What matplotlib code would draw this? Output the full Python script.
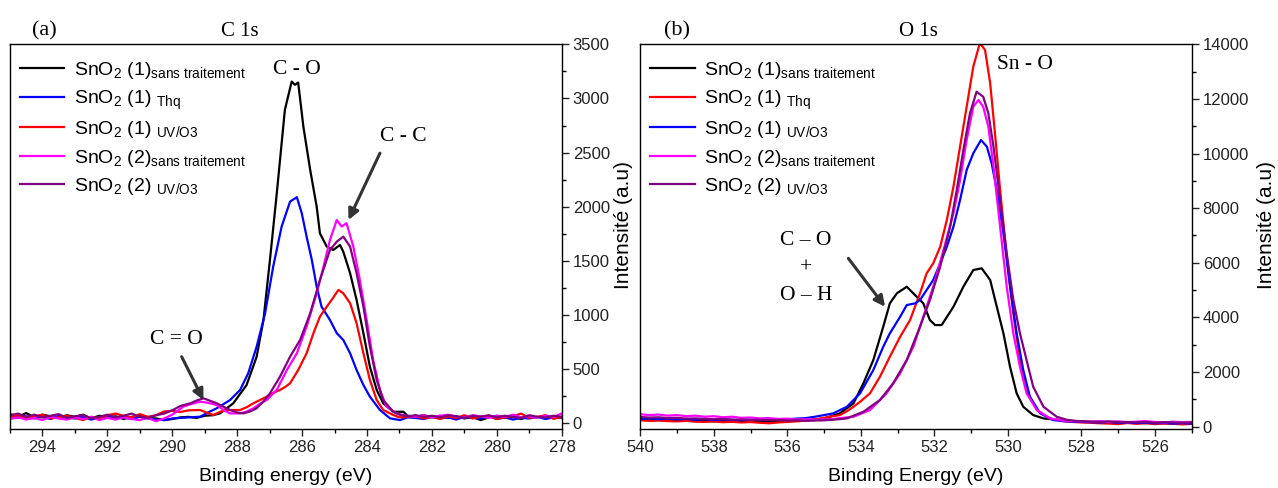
import matplotlib
matplotlib.use("Agg")
import matplotlib.pyplot as plt
from matplotlib.ticker import MultipleLocator

plt.rcParams['font.family'] = ['Liberation Sans', 'DejaVu Sans']
plt.rcParams['mathtext.fontset'] = 'custom'
plt.rcParams['mathtext.rm'] = 'Liberation Sans'
plt.rcParams['mathtext.it'] = 'Liberation Sans:italic'
plt.rcParams['mathtext.bf'] = 'Liberation Sans:bold'

# ---------------- C 1s data (panel a) ----------------
c1s_black_E = [295.0, 294.75, 294.5, 294.25, 294.0, 293.75, 293.5, 293.25, 293.0, 292.75, 292.5, 292.25, 292.0,
               291.75, 291.5, 291.25, 291.0, 290.75, 290.5, 290.25, 290.0, 289.75, 289.5, 289.25, 289.0, 288.75,
               288.53, 288.12, 287.71, 287.4, 287.19, 286.99, 286.78, 286.53, 286.32, 286.22, 286.12, 285.96,
               285.75, 285.55, 285.45, 285.24, 285.04, 284.83, 284.73, 284.52, 284.32, 284.11, 283.91, 283.7,
               283.5, 283.19, 282.88, 282.75, 282.5, 282.25, 282.0, 281.75, 281.5, 281.25, 281.0, 280.75, 280.5,
               280.25, 280.0, 279.75, 279.5, 279.25, 279.0, 278.75, 278.5, 278.25, 278.0]
c1s_black_I = [85, 60, 95, 55, 80, 65, 50, 75, 60, 80, 45, 70, 55,
               65, 40, 60, 70, 50, 45, 30, 40, 55, 60, 50, 70, 75,
               92, 185, 354, 615, 954, 1509, 2122, 2895, 3156, 3126, 3147, 2740,
               2340, 2001, 1755, 1632, 1601, 1647, 1585, 1386, 1139, 832, 523, 308,
               185, 107, 107, 70, 61, 75, 55, 70, 50, 65, 45, 60, 30,
               55, 70, 50, 60, 40, 65, 55, 70, 45, 60]

c1s_blue_E = [295.0, 294.75, 294.5, 294.25, 294.0, 293.75, 293.5, 293.25, 293.0, 292.75, 292.5, 292.25, 292.0,
              291.75, 291.5, 291.25, 291.0, 290.75, 290.5, 290.25, 290.0, 289.75, 289.5, 289.14, 288.9, 288.63,
              288.22, 287.91, 287.66, 287.4, 287.14, 286.89, 286.63, 286.37, 286.16, 286.01, 285.86, 285.7,
              285.55, 285.4, 285.14, 284.93, 284.73, 284.52, 284.32, 284.11, 283.91, 283.6, 283.29, 282.98,
              282.75, 282.5, 282.25, 282.0, 281.75, 281.5, 281.25, 281.0, 280.75, 280.5, 280.25, 280.0, 279.75,
              279.5, 279.25, 279.0, 278.75, 278.5, 278.25, 278.0]
c1s_blue_I = [70, 50, 65, 45, 60, 40, 70, 55, 45, 60, 35, 50, 65,
              45, 55, 40, 60, 45, 35, 30, 45, 50, 55, 61, 100, 139,
              215, 308, 462, 708, 1016, 1447, 1817, 2048, 2088, 1940, 1724, 1509,
              1262, 1077, 954, 832, 770, 647, 492, 354, 246, 123, 46, 30,
              55, 50, 40, 60, 45, 55, 35, 60, 50, 45, 65, 40, 55,
              35, 50, 45, 60, 40, 55, 50]

c1s_red_E = [295.0, 294.75, 294.5, 294.25, 294.0, 293.75, 293.5, 293.25, 293.0, 292.75, 292.5, 292.25, 292.0,
             291.75, 291.5, 291.25, 291.0, 290.75, 290.5, 290.25, 290.0, 289.75, 289.5, 289.14, 288.9, 288.73,
             288.5, 288.32, 287.91, 287.7, 287.5, 287.3, 287.09, 286.9, 286.68, 286.5, 286.37, 286.12, 285.86,
             285.65, 285.45, 285.24, 285.09, 284.88, 284.73, 284.52, 284.32, 284.11, 283.91, 283.7, 283.5,
             283.19, 283.0, 282.75, 282.5, 282.25, 282.0, 281.75, 281.5, 281.25, 281.0, 280.75, 280.5, 280.25,
             280.0, 279.75, 279.5, 279.25, 279.0, 278.75, 278.5, 278.25, 278.0]
c1s_red_I = [60, 75, 50, 65, 80, 45, 55, 70, 50, 30, 60, 45, 75,
             90, 70, 55, 85, 60, 75, 110, 115, 105, 120, 123, 95, 77,
             110, 123, 123, 150, 185, 215, 246, 280, 308, 340, 370, 492, 647,
             832, 985, 1077, 1139, 1232, 1201, 1109, 924, 647, 400, 215, 123,
             77, 55, 60, 70, 45, 60, 40, 65, 50, 75, 45, 60, 70,
             40, 55, 65, 90, 50, 60, 75, 45, 55]

c1s_magenta_E = [295.0, 294.75, 294.5, 294.25, 294.0, 293.75, 293.5, 293.25, 293.0, 292.75, 292.5, 292.25, 292.0,
                 291.75, 291.5, 291.25, 291.0, 290.75, 290.5, 290.25, 290.0, 289.66, 289.4, 289.14, 288.9, 288.63,
                 288.4, 288.22, 287.91, 287.7, 287.5, 287.3, 287.09, 286.78, 286.47, 286.16, 285.86, 285.55,
                 285.34, 285.14, 284.93, 284.78, 284.63, 284.42, 284.22, 284.01, 283.81, 283.6, 283.4, 283.09,
                 282.8, 282.5, 282.25, 282.0, 281.75, 281.5, 281.25, 281.0, 280.75, 280.5, 280.25, 280.0, 279.75,
                 279.5, 279.25, 279.0, 278.75, 278.5, 278.25, 278.0]
c1s_magenta_I = [40, 55, 35, 50, 30, 60, 45, 35, 55, 40, 60, 30, 50,
                 35, 55, 40, 30, 50, 20, 45, 80, 154, 180, 200, 190, 169,
                 120, 92, 92, 110, 139, 180, 215, 308, 492, 647, 893, 1201,
                 1447, 1694, 1878, 1817, 1848, 1632, 1324, 954, 585, 308, 154, 92,
                 70, 60, 75, 55, 70, 80, 60, 55, 75, 65, 50, 70, 60,
                 80, 55, 65, 50, 70, 60, 90]

c1s_purple_E = [295.0, 294.75, 294.5, 294.25, 294.0, 293.75, 293.5, 293.25, 293.0, 292.75, 292.5, 292.25, 292.0,
                291.75, 291.5, 291.25, 291.0, 290.75, 290.5, 290.25, 290.0, 289.75, 289.45, 289.25, 289.04, 288.85,
                288.63, 288.4, 288.22, 288.0, 287.81, 287.6, 287.4, 287.2, 286.99, 286.68, 286.37, 286.06, 285.75,
                285.45, 285.14, 284.93, 284.73, 284.52, 284.32, 284.11, 283.91, 283.7, 283.5, 283.19, 283.0,
                282.75, 282.5, 282.25, 282.0, 281.75, 281.5, 281.25, 281.0, 280.75, 280.5, 280.25, 280.0, 279.75,
                279.5, 279.25, 279.0, 278.75, 278.5, 278.25, 278.0]
c1s_purple_I = [75, 90, 60, 80, 55, 70, 85, 50, 65, 75, 45, 60, 80,
                55, 70, 90, 60, 50, 75, 90, 120, 160, 185, 210, 231, 210,
                185, 150, 123, 100, 92, 110, 139, 200, 277, 431, 615, 770, 1016,
                1324, 1601, 1678, 1724, 1632, 1386, 1077, 708, 400, 215, 107, 80,
                65, 75, 60, 70, 55, 75, 65, 50, 70, 60, 75, 55, 70,
                60, 50, 75, 60, 55, 70, 60]

# ---------------- O 1s data (panel b) ----------------
o1s_black_E = [540.0, 539.75, 539.5, 539.25, 539.0, 538.75, 538.5, 538.25, 538.0, 537.75, 537.5, 537.25, 537.0,
               536.75, 536.5, 536.25, 536.0, 535.75, 535.5, 535.25, 535.0, 534.8, 534.57, 534.2, 533.93, 533.66,
               533.39, 533.21, 533.02, 532.75, 532.48, 532.3, 532.12, 531.98, 531.8, 531.48, 531.21, 530.94,
               530.71, 530.48, 530.3, 530.12, 529.94, 529.76, 529.58, 529.31, 529.03, 528.75, 528.5, 528.25,
               528.0, 527.75, 527.5, 527.25, 527.0, 526.75, 526.5, 526.25, 526.0, 525.75, 525.5, 525.25, 525.0]
o1s_black_I = [250, 230, 240, 220, 230, 210, 200, 215, 190, 200, 180, 195, 170,
               185, 175, 190, 200, 210, 230, 260, 300, 380, 483, 850, 1582, 2436,
               3656, 4513, 4879, 5121, 4755, 4513, 3901, 3718, 3718, 4388, 5121, 5733,
               5795, 5366, 4388, 3414, 2190, 1216, 725, 421, 300, 260, 230, 200,
               180, 170, 160, 150, 170, 140, 150, 130, 140, 120, 130, 110, 120]

o1s_red_E = [540.0, 539.75, 539.5, 539.25, 539.0, 538.75, 538.5, 538.25, 538.0, 537.75, 537.5, 537.25, 537.0,
             536.75, 536.5, 536.25, 536.0, 535.75, 535.5, 535.25, 535.0, 534.8, 534.57, 534.38, 534.2, 534.02,
             533.75, 533.48, 533.21, 532.93, 532.66, 532.39, 532.21, 532.03, 531.84, 531.66, 531.48, 531.3,
             531.12, 530.94, 530.76, 530.62, 530.48, 530.35, 530.21, 530.03, 529.85, 529.67, 529.49, 529.21,
             528.86, 528.5, 528.25, 528.0, 527.75, 527.5, 527.25, 527.0, 526.75, 526.5, 526.25, 526.0, 525.75,
             525.5, 525.25, 525.0]
o1s_red_I = [230, 210, 220, 200, 190, 210, 180, 170, 190, 160, 175, 150, 165,
             140, 120, 150, 170, 190, 220, 260, 320, 370, 421, 560, 725, 908,
             1216, 1824, 2557, 3289, 3901, 4879, 5612, 5978, 6586, 7564, 8784, 10249,
             11714, 13180, 14050, 13791, 12571, 10740, 8663, 6220, 4147, 2436, 1337, 604,
             300, 200, 170, 150, 140, 120, 110, 90, 130, 100, 120, 90, 110,
             100, 80, 100]

o1s_blue_E = [540.0, 539.75, 539.5, 539.25, 539.0, 538.75, 538.5, 538.25, 538.0, 537.75, 537.5, 537.25, 537.0,
              536.75, 536.5, 536.25, 536.0, 535.75, 535.5, 535.25, 535.0, 534.75, 534.38, 534.02, 533.66, 533.39,
              533.21, 532.93, 532.75, 532.52, 532.39, 532.21, 532.03, 531.84, 531.66, 531.48, 531.3, 531.12,
              530.94, 530.73, 530.57, 530.44, 530.3, 530.12, 529.94, 529.76, 529.58, 529.4, 529.12, 528.76,
              528.5, 528.25, 528.0, 527.75, 527.5, 527.25, 527.0, 526.75, 526.5, 526.25, 526.0, 525.75, 525.5,
              525.25, 525.0]
o1s_blue_I = [280, 300, 270, 290, 260, 280, 250, 270, 240, 260, 250, 230, 255,
              240, 260, 245, 270, 290, 310, 360, 420, 483, 725, 1216, 2070, 2923,
              3414, 4022, 4451, 4513, 4634, 5000, 5366, 5978, 6586, 7319, 8297, 9396,
              10007, 10495, 10249, 9641, 8663, 7077, 5121, 3414, 2070, 1092, 483, 238,
              200, 180, 170, 160, 150, 165, 140, 150, 130, 145, 120, 135, 110,
              125, 110]

o1s_magenta_E = [540.0, 539.75, 539.5, 539.25, 539.0, 538.75, 538.5, 538.25, 538.0, 537.75, 537.5, 537.25, 537.0,
                 536.75, 536.5, 536.25, 536.0, 535.75, 535.5, 535.25, 535.0, 534.75, 534.5, 534.2, 533.75, 533.3,
                 532.93, 532.57, 532.3, 532.03, 531.75, 531.48, 531.3, 531.12, 530.94, 530.8, 530.67, 530.53,
                 530.39, 530.21, 530.03, 529.85, 529.67, 529.49, 529.21, 528.86, 528.5, 528.25, 528.0, 527.75,
                 527.5, 527.25, 527.0, 526.75, 526.5, 526.25, 526.0, 525.75, 525.5, 525.25, 525.0]
o1s_magenta_I = [450, 420, 440, 400, 420, 380, 400, 360, 380, 340, 360, 320, 330,
                 300, 310, 280, 290, 260, 270, 250, 260, 280, 320, 359, 604, 1216,
                 1949, 2923, 4022, 5121, 6465, 7810, 9019, 10495, 11714, 11960, 11714, 10982,
                 9517, 7319, 5121, 3414, 2190, 1216, 604, 300, 220, 200, 190, 180,
                 200, 170, 190, 160, 180, 200, 170, 150, 180, 160, 170]

o1s_purple_E = [540.0, 539.75, 539.5, 539.25, 539.0, 538.75, 538.5, 538.25, 538.0, 537.75, 537.5, 537.25, 537.0,
                536.75, 536.5, 536.25, 536.0, 535.75, 535.5, 535.25, 535.0, 534.75, 534.38, 533.93, 533.48, 533.12,
                532.75, 532.39, 532.12, 531.84, 531.57, 531.39, 531.21, 531.03, 530.85, 530.67, 530.53, 530.39,
                530.21, 530.03, 529.85, 529.67, 529.49, 529.31, 529.03, 528.67, 528.4, 528.1, 527.75, 527.5,
                527.25, 527.0, 526.75, 526.5, 526.25, 526.0, 525.75, 525.5, 525.25, 525.0]
o1s_purple_I = [350, 330, 340, 310, 320, 290, 300, 280, 270, 280, 250, 260, 240,
                250, 230, 240, 220, 230, 210, 220, 230, 250, 300, 542, 971, 1582,
                2436, 3656, 4634, 5853, 7319, 8663, 10128, 11472, 12264, 12081, 11472, 10249,
                8297, 6344, 4634, 3414, 2436, 1458, 725, 359, 250, 200, 180, 170,
                190, 160, 170, 150, 170, 140, 160, 150, 140, 150]

c1s_labels = [r"SnO$_2$ (1)$_{\mathrm{sans\ traitement}}$", r"SnO$_2$ (1) $_{\mathrm{Thq}}$",
              r"SnO$_2$ (1) $_{\mathrm{UV/O3}}$", r"SnO$_2$ (2)$_{\mathrm{sans\ traitement}}$",
              r"SnO$_2$ (2) $_{\mathrm{UV/O3}}$"]
o1s_labels = [r"SnO$_2$ (1)$_{\mathrm{sans\ traitement}}$", r"SnO$_2$ (1) $_{\mathrm{Thq}}$",
              r"SnO$_2$ (1) $_{\mathrm{UV/O3}}$", r"SnO$_2$ (2)$_{\mathrm{sans\ traitement}}$",
              r"SnO$_2$ (2) $_{\mathrm{UV/O3}}$"]

c1s_series = [(c1s_black_E, c1s_black_I, 'black'), (c1s_blue_E, c1s_blue_I, '#0000ff'),
              (c1s_red_E, c1s_red_I, '#ff0000'), (c1s_magenta_E, c1s_magenta_I, '#ff00ff'),
              (c1s_purple_E, c1s_purple_I, '#800080')]
o1s_series = [(o1s_black_E, o1s_black_I, 'black'), (o1s_red_E, o1s_red_I, '#ff0000'),
              (o1s_blue_E, o1s_blue_I, '#0000ff'), (o1s_magenta_E, o1s_magenta_I, '#ff00ff'),
              (o1s_purple_E, o1s_purple_I, '#800080')]

W, H = 1278, 488
fig = plt.figure(figsize=(W / 100, H / 100), dpi=100)
ax1 = fig.add_axes([10 / W, (H - 429.3) / H, 551.7 / W, 385 / H])
ax2 = fig.add_axes([640.3 / W, (H - 429.3) / H, 551.3 / W, 385 / H])

serif = ['Liberation Serif', 'DejaVu Serif']
arrow_kw = dict(arrowstyle='-|>', color='#333333', lw=2.2, mutation_scale=16, shrinkA=0, shrinkB=0)


def style(ax, xlim, ylim, xmaj, ymaj, ymin, xlabel, ylabel_x):
    ax.set_xlim(*xlim)
    ax.set_ylim(*ylim)
    ax.yaxis.tick_right()
    ax.yaxis.set_label_position('right')
    ax.xaxis.set_major_locator(MultipleLocator(xmaj))
    ax.xaxis.set_minor_locator(MultipleLocator(1))
    ax.yaxis.set_major_locator(MultipleLocator(ymaj))
    ax.yaxis.set_minor_locator(MultipleLocator(ymin))
    ax.tick_params(which='major', direction='out', length=5, width=1, labelsize=12, colors='#222222', pad=3)
    ax.tick_params(which='minor', direction='out', length=3, width=1)
    ax.set_xlabel(xlabel, fontsize=14, labelpad=9)
    ax.set_ylabel("Intensité (a.u)", fontsize=15)
    ax.yaxis.set_label_coords(ylabel_x, 0.53)
    for s in ax.spines.values():
        s.set_linewidth(1.0)


for E, I, c in c1s_series:
    ax1.plot(E, I, color=c, lw=1.6)
for E, I, c in o1s_series:
    ax2.plot(E, I, color=c, lw=1.6)

style(ax1, (295, 278), (-55, 3500), 2, 500, 250, "Binding energy (eV)", 1.095)
style(ax2, (540, 525), (-100, 14000), 2, 2000, 1000, "Binding Energy (eV)", 1.118)

for ax, labels in ((ax1, c1s_labels), (ax2, o1s_labels)):
    ax.legend(ax.get_lines(), labels, loc='upper left', bbox_to_anchor=(0, 0.984), frameon=False, fontsize=14,
              handlelength=2.3, handletextpad=0.5, labelspacing=0.38, borderaxespad=0.1, borderpad=0.4)

# panel titles
ax1.text(0.063, 1.036, "(a)", transform=ax1.transAxes, ha='center', va='center', fontsize=16, family=serif)
ax1.text(0.417, 1.034, "C 1s", transform=ax1.transAxes, ha='center', va='center', fontsize=15, family=serif)
ax2.text(0.067, 1.036, "(b)", transform=ax2.transAxes, ha='center', va='center', fontsize=16, family=serif)
ax2.text(0.505, 1.034, "O 1s", transform=ax2.transAxes, ha='center', va='center', fontsize=15, family=serif)

# annotations panel (a)
ax1.text(286.17, 3271, "C - O", ha='center', va='center', fontsize=15.5, family=serif)
ax1.text(282.88, 2648, "C - C", ha='center', va='center', fontsize=15.5, family=serif)
ax1.text(289.86, 770, "C = O", ha='center', va='center', fontsize=15.5, family=serif)
ax1.annotate("", xy=(284.57, 1878), xytext=(283.6, 2495), arrowprops=arrow_kw)
ax1.annotate("", xy=(289.04, 215), xytext=(289.71, 615), arrowprops=arrow_kw)

# annotations panel (b)
ax2.text(529.53, 13242, "Sn - O", ha='center', va='center', fontsize=15.5, family=serif)
ax2.text(535.49, 6831, "C – O", ha='center', va='center', fontsize=15.5, family=serif)
ax2.text(535.49, 5806, "+", ha='center', va='center', fontsize=15.5, family=serif)
ax2.text(535.49, 4817, "O – H", ha='center', va='center', fontsize=15.5, family=serif)
ax2.annotate("", xy=(533.34, 4388), xytext=(534.34, 6161), arrowprops=arrow_kw)

fig.savefig("out.png", dpi=100)
